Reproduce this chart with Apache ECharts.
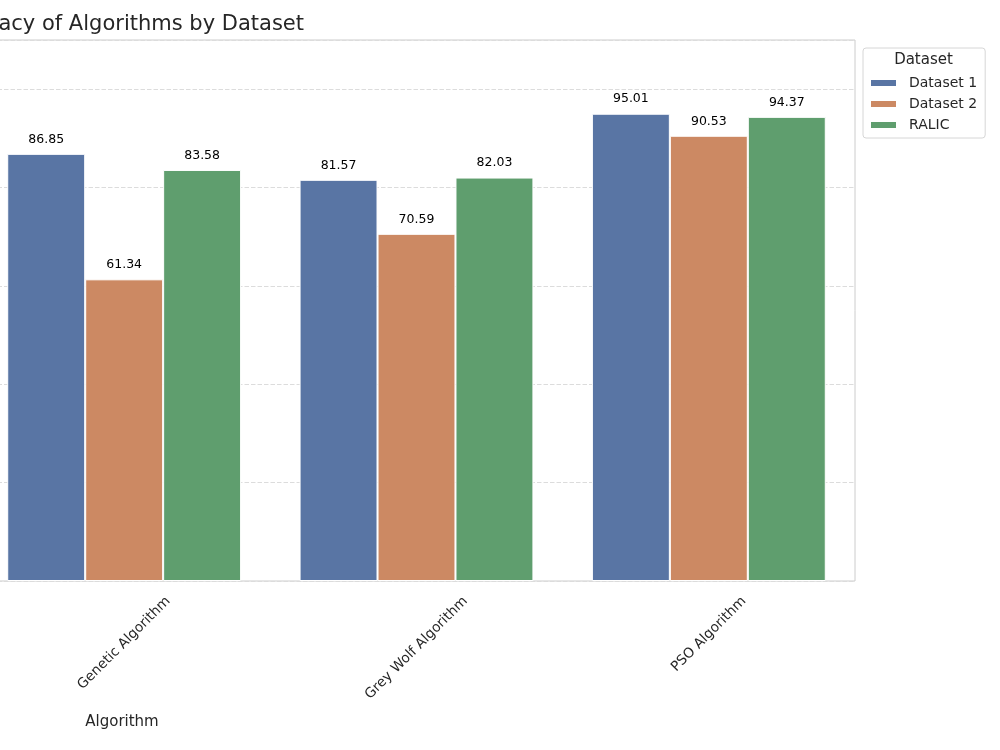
<!DOCTYPE html>
<html>
<head>
<meta charset="utf-8">
<script src="https://cdn.jsdelivr.net/npm/echarts@6/dist/echarts.min.js"></script>
<style>
html,body{margin:0;padding:0;background:#fff;}
#chart{width:1000px;height:750px;}
</style>
</head>
<body>
<div id="chart"></div>
<script>
const categories = ['Genetic Algorithm', 'Grey Wolf Algorithm', 'PSO Algorithm'];
const seriesNames = ['Dataset 1', 'Dataset 2', 'RALIC'];
const dataset1 = [86.85, 81.57, 95.01];
const dataset2 = [61.34, 70.59, 90.53];
const ralic = [83.58, 82.03, 94.37];
const colors = ['#5975a4', '#cc8963', '#5f9e6e'];
const titleText = 'Accuracy of Algorithms by Dataset';
const xAxisTitle = 'Algorithm';
const legendTitle = 'Dataset';

const FONT = '"DejaVu Sans", sans-serif';
const TICK_FS = 13.75;

// measure tick label widths so rotated labels are centred under the tick (matplotlib style):
// right padding moves the text back along its baseline, an empty first line of height s
// moves it down across the baseline, so the label centre drops straight below the tick.
const ctx = document.createElement('canvas').getContext('2d');
ctx.font = TICK_FS + 'px "DejaVu Sans"';
const xData = categories.map(function (c) {
  const s = ctx.measureText(c).width / 2;
  return {
    value: c,
    textStyle: {
      padding: [0, s, 0, 0],
      lineHeight: s,
      align: 'center',
      verticalAlign: 'middle',
      fontSize: TICK_FS,
      color: '#262626',
      fontFamily: FONT
    }
  };
});

const seriesData = [dataset1, dataset2, ralic];
const chart = echarts.init(document.getElementById('chart'), null, { renderer: 'canvas' });
chart.setOption({
  animation: false,
  backgroundColor: '#ffffff',
  title: {
    text: titleText,
    right: 696,
    top: 14.5,
    padding: 0,
    textStyle: { fontSize: 21, fontWeight: 'normal', color: '#262626', fontFamily: FONT }
  },
  grid: {
    left: -22,
    right: 145,
    top: 40,
    bottom: 169,
    show: true,
    borderColor: '#cccccc',
    borderWidth: 1,
    containLabel: false,
    outerBoundsMode: 'none'
  },
  legend: {
    orient: 'vertical',
    left: 863,
    top: 48,
    padding: [28, 8, 6, 6],
    itemGap: 7,
    itemWidth: 27,
    itemHeight: 8,
    icon: 'rect',
    borderColor: '#d6d6d6',
    borderWidth: 1,
    borderRadius: 3,
    backgroundColor: '#ffffff',
    data: seriesNames,
    textStyle: { fontSize: 14, color: '#262626', fontFamily: FONT, padding: [0, 0, 0, 7] }
  },
  xAxis: {
    type: 'category',
    data: xData,
    axisLine: { show: false },
    axisTick: { show: false },
    splitLine: { show: false },
    axisLabel: {
      interval: 0,
      rotate: 45,
      align: 'center',
      verticalAlign: 'middle',
      margin: 18,
      fontSize: TICK_FS,
      color: '#262626',
      fontFamily: FONT,
      formatter: function (v) { return '\n' + v; }
    }
  },
  yAxis: {
    type: 'value',
    min: 0,
    max: 110,
    interval: 20,
    axisLine: { show: false },
    axisTick: { show: false },
    axisLabel: { show: false },
    splitLine: { show: true, lineStyle: { color: '#dcdcdc', width: 1, type: [4.5, 2] } }
  },
  series: seriesNames.map(function (name, i) {
    return {
      name: name,
      type: 'bar',
      data: seriesData[i],
      barGap: '0%',
      barCategoryGap: '20%',
      itemStyle: { color: colors[i], borderColor: '#ffffff', borderWidth: 1 },
      label: {
        show: true,
        position: 'top',
        distance: 8,
        fontSize: 12.5,
        color: '#000000',
        fontFamily: FONT,
        formatter: function (p) { return p.value.toFixed(2); }
      }
    };
  }),
  graphic: [
    {
      type: 'text', x: 122, y: 722, z: 100,
      style: { text: xAxisTitle, fontSize: 15, fontFamily: FONT, fill: '#262626', align: 'center', verticalAlign: 'middle' }
    },
    {
      type: 'text', x: 923.5, y: 60, z: 100,
      style: { text: legendTitle, fontSize: 15, fontFamily: FONT, fill: '#262626', align: 'center', verticalAlign: 'middle' }
    }
  ]
});
</script>
</body>
</html>
